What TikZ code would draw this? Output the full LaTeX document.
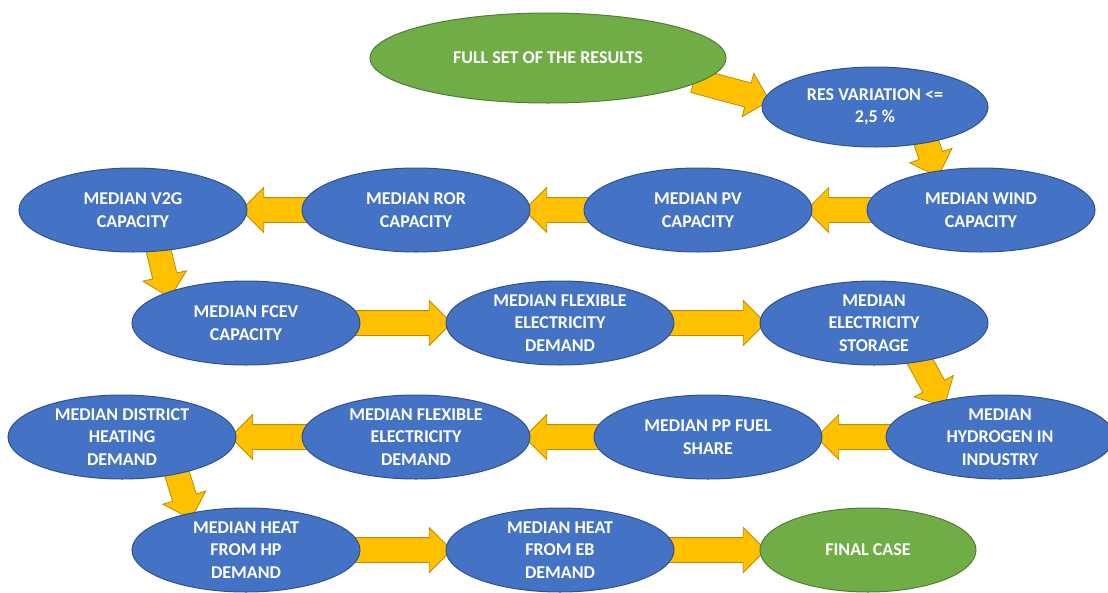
\documentclass[tikz,border=0pt]{standalone}
\usepackage{fontspec}
\setmainfont{Carlito}
\usetikzlibrary{shapes.geometric,shapes.arrows,calc,backgrounds}
\definecolor{nblue}{HTML}{4472C4}
\definecolor{nblueb}{HTML}{2F528F}
\definecolor{ngreen}{HTML}{70AD47}
\definecolor{ngreenb}{HTML}{507E32}
\definecolor{arrfill}{HTML}{FFC000}
\definecolor{arrline}{HTML}{BC8C00}
\tikzset{
  oval/.style={ellipse, draw=nblueb, fill=nblue, line width=1pt,
    minimum width=228pt, minimum height=84pt, inner sep=0pt, text=white,
    font=\fontsize{18}{22.5}\selectfont\bfseries, align=center},
  goval/.style={oval, draw=ngreenb, fill=ngreen},
  blockarrowshape/.style={single arrow, draw=arrline, fill=arrfill, line width=0.8pt,
    inner xsep=0pt, inner ysep=12pt, minimum width=0pt,
    single arrow head extend=10pt, anchor=center}
}
\newcommand\blockarrow[3]{%
  \path let \p1=($#2!-12pt!#3$), \p2=#3,
    \n1={atan2(\y2-\y1,\x2-\x1)}, \n2={veclen(\x2-\x1,\y2-\y1)} in
    node[blockarrowshape, rotate=\n1, minimum height=\n2] (#1) at ($(\p1)!0.5!(\p2)$) {};}
\begin{document}
\begin{tikzpicture}[x=1pt,y=-1pt]
\useasboundingbox (0,0) rectangle (1108,592);
% nodes
\node[goval, minimum width=356pt, minimum height=90pt] (full) at (548,58) {FULL SET OF THE RESULTS};
\node[oval, minimum width=226pt, minimum height=80pt] (res) at (875,107) {RES VARIATION <=\\2,5 \%};
\node[oval] (wind) at (981,210) {MEDIAN WIND\\CAPACITY};
\node[oval] (pv) at (698,210) {MEDIAN PV\\CAPACITY};
\node[oval] (ror) at (416,210) {MEDIAN ROR\\CAPACITY};
\node[oval] (v2g) at (133,210) {MEDIAN V2G\\CAPACITY};
\node[oval] (fcev) at (246,323) {MEDIAN FCEV\\CAPACITY};
\node[oval] (flexa) at (560,323) {MEDIAN FLEXIBLE\\ELECTRICITY\\DEMAND};
\node[oval] (stor) at (874,323) {MEDIAN\\ELECTRICITY\\STORAGE};
\node[oval] (hydro) at (1000,437) {MEDIAN\\HYDROGEN IN\\INDUSTRY};
\node[oval] (ppfuel) at (708,437) {MEDIAN PP FUEL\\SHARE};
\node[oval] (flexb) at (416,437) {MEDIAN FLEXIBLE\\ELECTRICITY\\DEMAND};
\node[oval] (dist) at (122,437) {MEDIAN DISTRICT\\HEATING\\DEMAND};
\node[oval] (hp) at (246,550) {MEDIAN HEAT\\FROM HP\\DEMAND};
\node[oval] (eb) at (560,550) {MEDIAN HEAT\\FROM EB\\DEMAND};
\node[goval, minimum width=216pt] (final) at (868,550) {FINAL CASE};
% arrows
\begin{pgfonlayer}{background}
\blockarrow{a1}{(full.-9)}{(res.176)}
\blockarrow{a2}{(res.-35)}{(wind.139)}
\blockarrow{a3}{(wind.west)}{(pv.east)}
\blockarrow{a4}{(pv.west)}{(ror.east)}
\blockarrow{a5}{(ror.west)}{(v2g.east)}
\blockarrow{a6}{(v2g.-58)}{(fcev.158)}
\blockarrow{a7}{(fcev.east)}{(flexa.west)}
\blockarrow{a8}{(flexa.east)}{(stor.west)}
\blockarrow{a9}{(stor.-40)}{(hydro.148)}
\blockarrow{a10}{(hydro.west)}{(ppfuel.east)}
\blockarrow{a11}{(ppfuel.west)}{(flexb.east)}
\blockarrow{a12}{(flexb.west)}{(dist.east)}
\blockarrow{a13}{(dist.-34)}{(hp.147)}
\blockarrow{a14}{(hp.east)}{(eb.west)}
\blockarrow{a15}{(eb.east)}{(final.west)}
\end{pgfonlayer}
\end{tikzpicture}
\end{document}
